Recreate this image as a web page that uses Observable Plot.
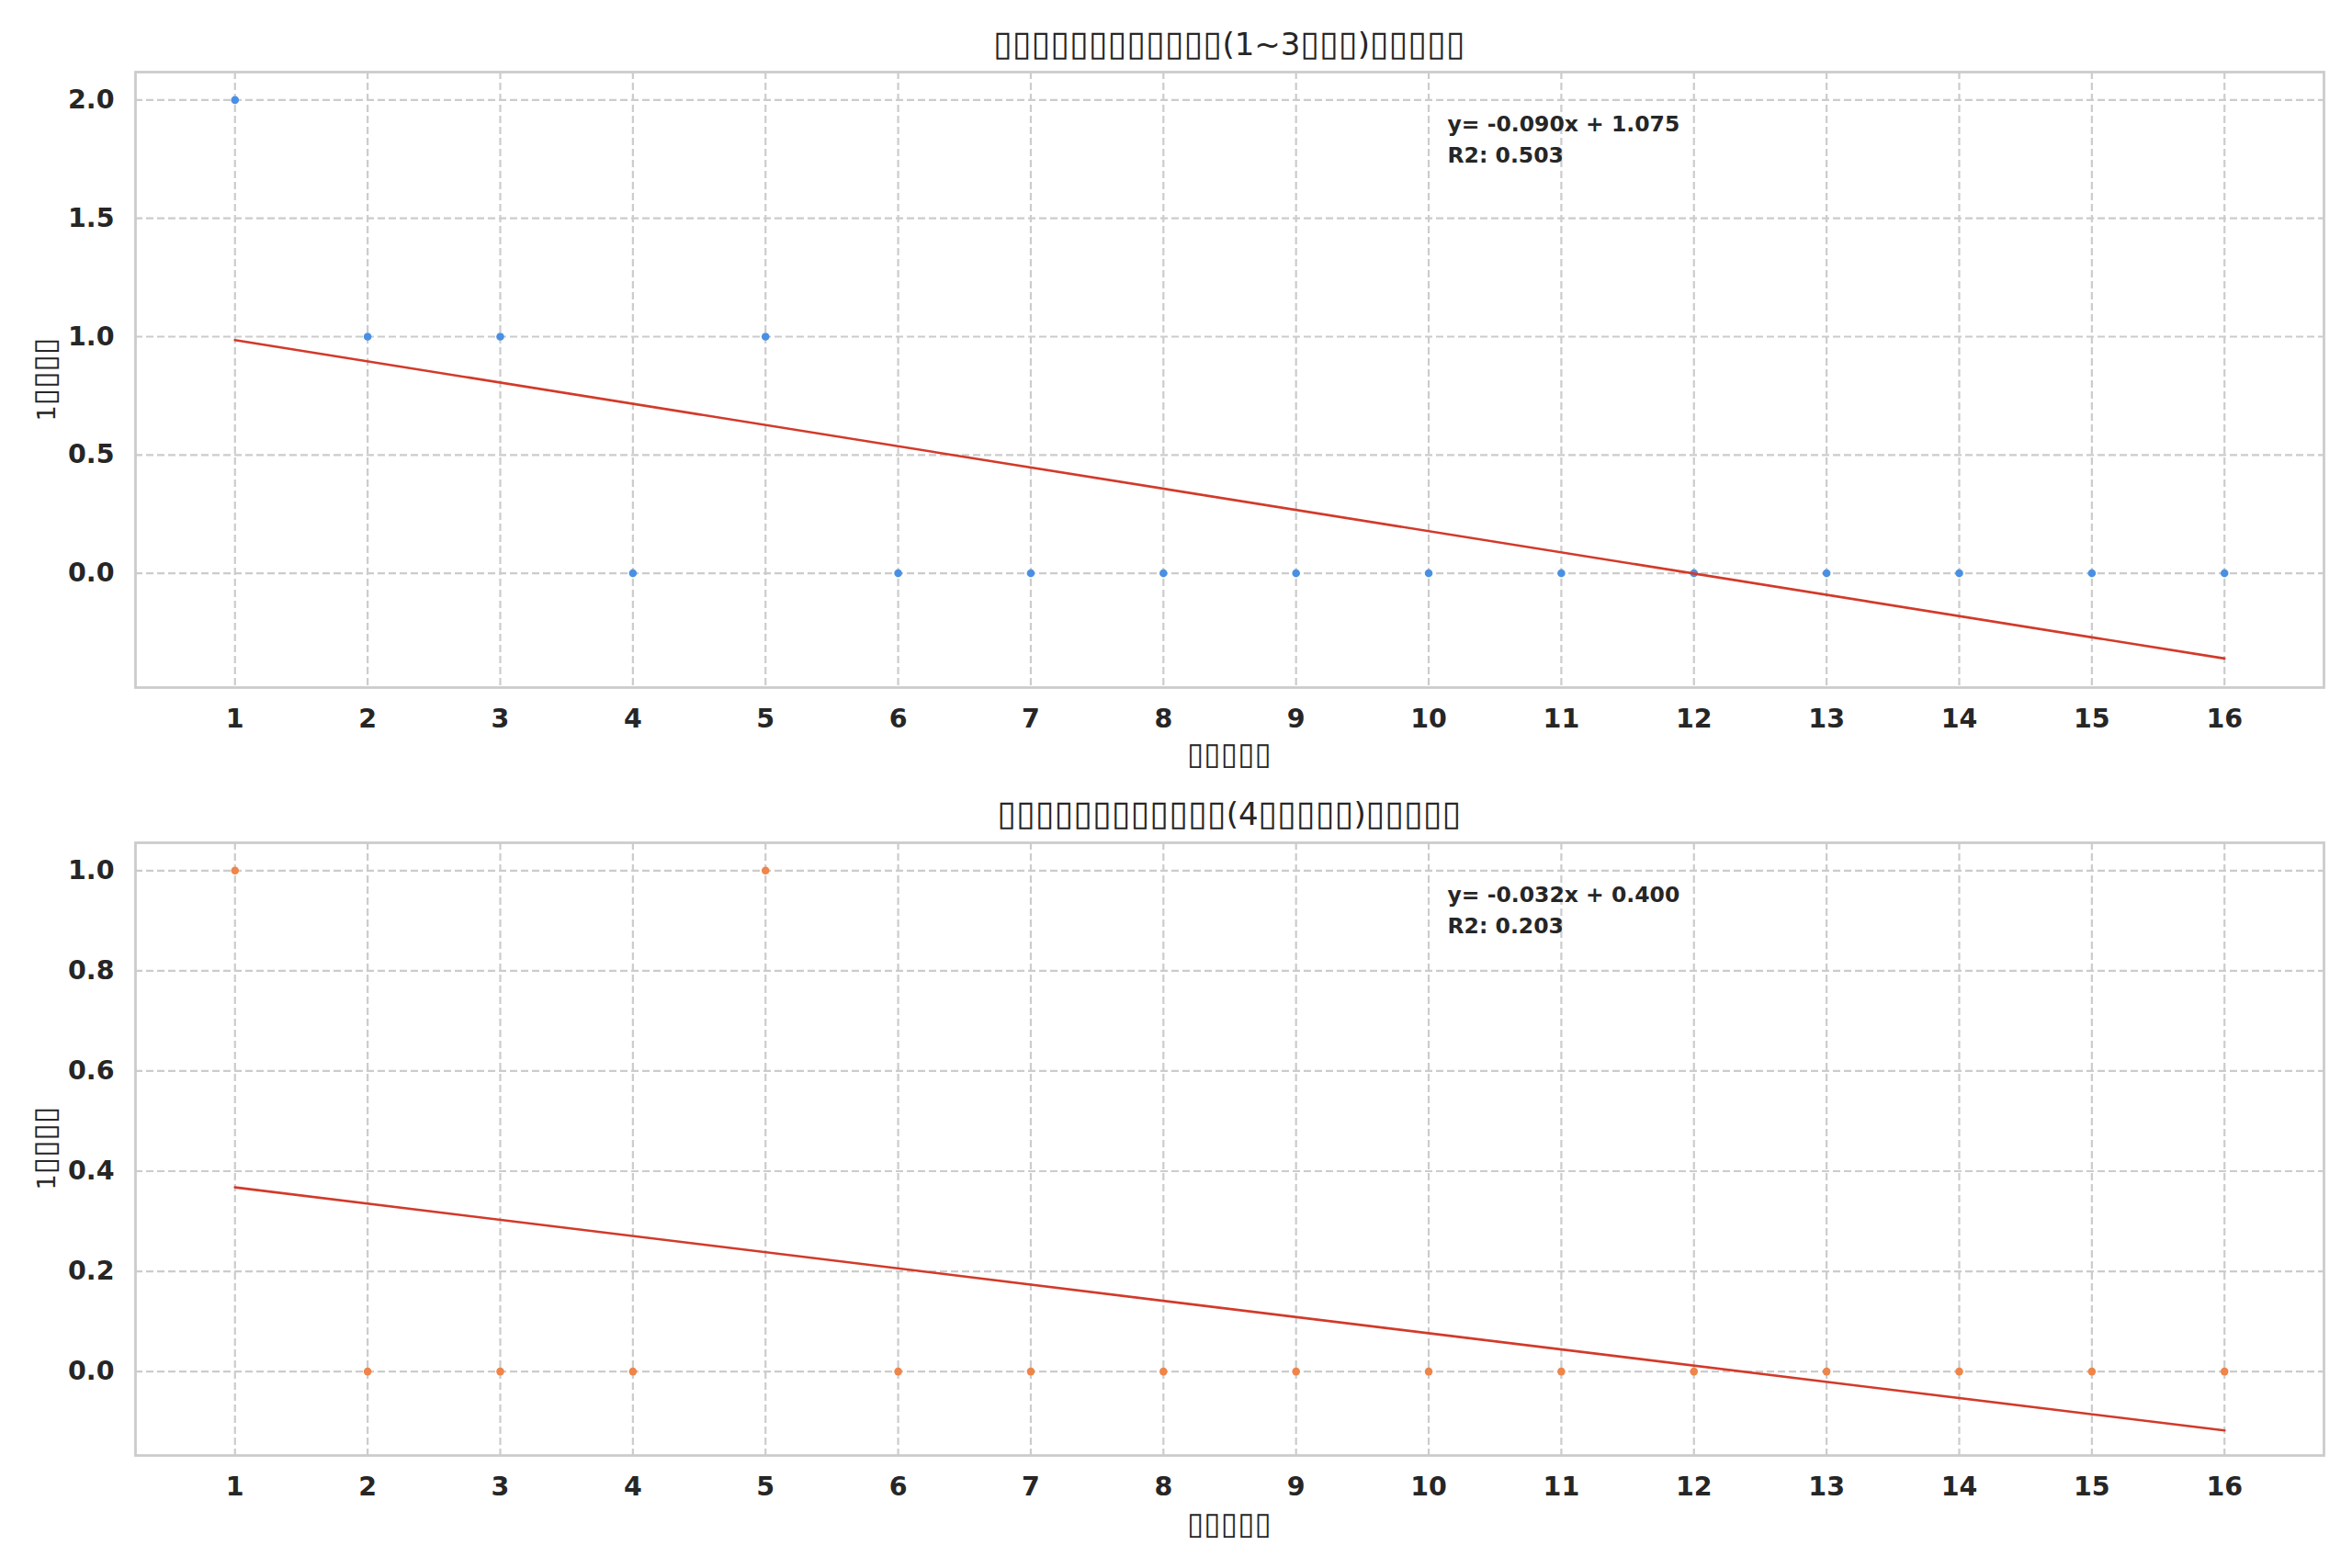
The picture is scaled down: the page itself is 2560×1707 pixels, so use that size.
<!DOCTYPE html>
<html>
<head>
<meta charset="utf-8">
<script src="https://cdn.jsdelivr.net/npm/d3@7"></script>
<script src="https://cdn.jsdelivr.net/npm/@observablehq/plot@0.6"></script>
<style>
  html, body { margin: 0; padding: 0; background: #ffffff; }
  #root { position: relative; width: 2560px; height: 1707px; background: #fff; overflow: hidden; font-family: "DejaVu Sans", sans-serif; color: #262626; }
  .abs { position: absolute; white-space: nowrap; transform: translate(-50%, -50%); line-height: 1; }
  .title { font-size: 34px; }
  .title .box { font-size: 1.11em; }
  .xlabel { font-size: 27px; }
  .ylabel { font-size: 27px; transform: translate(-50%, -50%) rotate(-90deg); }
  .xlabel .box, .ylabel .box { font-size: 1.24em; }
  svg { position: absolute; left: 0; }
</style>
</head>
<body>
<div id="root"></div>
<script>
// ---- data ----
const months = [1, 2, 3, 4, 5, 6, 7, 8, 9, 10, 11, 12, 13, 14, 15, 16];
const countShort = [2, 1, 1, 0, 1, 0, 0, 0, 0, 0, 0, 0, 0, 0, 0, 0];   // (1~3 ...)
const countLong  = [1, 0, 0, 0, 1, 0, 0, 0, 0, 0, 0, 0, 0, 0, 0, 0];   // (4 ...)
const xTicks = months;
const yTicksTop = [0.0, 0.5, 1.0, 1.5, 2.0];
const yTicksBottom = [0.0, 0.2, 0.4, 0.6, 0.8, 1.0];
const titleTop = "▯▯▯▯▯▯▯▯▯▯▯▯(1~3▯▯▯)▯▯▯▯▯";
const titleBottom = "▯▯▯▯▯▯▯▯▯▯▯▯(4▯▯▯▯▯)▯▯▯▯▯";
const xLabel = "▯▯▯▯▯";
const yLabel = "1▯▯▯▯";
const eqTop = ["y= -0.090x + 1.075", "R2: 0.503"];
const eqBottom = ["y= -0.032x + 0.400", "R2: 0.203"];

const root = document.getElementById("root");

function addText(cls, text, x, y) {
  const d = document.createElement("div");
  d.className = "abs " + cls;
  // wrap runs of box glyphs so they can be sized like the reference's glyph boxes
  for (const run of text.match(/▯+|[^▯]+/g)) {
    const s = document.createElement("span");
    if (run[0] === "▯") s.className = "box";
    s.textContent = run;
    d.appendChild(s);
  }
  d.style.left = x + "px";
  d.style.top = y + "px";
  root.appendChild(d);
}

function panel({values, color, yDomain, yTicks, eq, top, height, marginTop, marginBottom}) {
  const data = months.map((m, i) => ({x: m, y: values[i]}));
  const grid = {stroke: "#cccccc", strokeOpacity: 1, strokeWidth: 2.2, strokeDasharray: "8,4"};
  const chart = Plot.plot({
    width: 2560,
    height,
    marginLeft: 147,
    marginRight: 31,
    marginTop,
    marginBottom,
    style: {fontFamily: "DejaVu Sans, sans-serif", fontSize: "28px", color: "#262626", background: "transparent", overflow: "visible"},
    x: {domain: [0.25, 16.75], ticks: xTicks, label: null},
    y: {domain: yDomain, ticks: yTicks, label: null},
    marks: [
      Plot.gridX(xTicks, grid),
      Plot.gridY(yTicks, grid),
      Plot.frame({stroke: "#cccccc", strokeWidth: 2.8}),
      Plot.axisX(xTicks, {tickSize: 0, tickPadding: 23, fontWeight: "bold", fontSize: 28.5, fill: "#262626", tickFormat: d => String(d), label: null}),
      Plot.axisY(yTicks, {tickSize: 0, tickPadding: 23, fontWeight: "bold", fontSize: 28.5, fill: "#262626", tickFormat: d3.format(".1f"), label: null}),
      Plot.dot(data, {x: "x", y: "y", r: 4.3, fill: color, stroke: "none"}),
      Plot.linearRegressionY(data, {x: "x", y: "y", stroke: "#d23a2a", strokeWidth: 2.6, ci: 0}),
      Plot.text([eq.join("\n")], {
        text: d => d, frameAnchor: "top-left", dx: 1428, dy: 41,
        textAnchor: "start", lineAnchor: "top", lineHeight: 1.42,
        fontWeight: "bold", fontSize: 23.5, fill: "#262626"
      })
    ]
  });
  chart.style.top = top + "px";
  root.appendChild(chart);
}

panel({values: countShort, color: "#4a90e2", yDomain: [-0.483, 2.118], yTicks: yTicksTop, eq: eqTop,
       top: 0, height: 860, marginTop: 78, marginBottom: 112});
panel({values: countLong, color: "#ee854a", yDomain: [-0.1676, 1.0556], yTicks: yTicksBottom, eq: eqBottom,
       top: 860, height: 847, marginTop: 57, marginBottom: 123});

addText("title", titleTop, 1338, 48);
addText("title", titleBottom, 1338, 886);
addText("xlabel", xLabel, 1338, 821);
addText("xlabel", xLabel, 1338, 1659);
addText("ylabel", yLabel, 49, 413);
addText("ylabel", yLabel, 49, 1250);
</script>
</body>
</html>
